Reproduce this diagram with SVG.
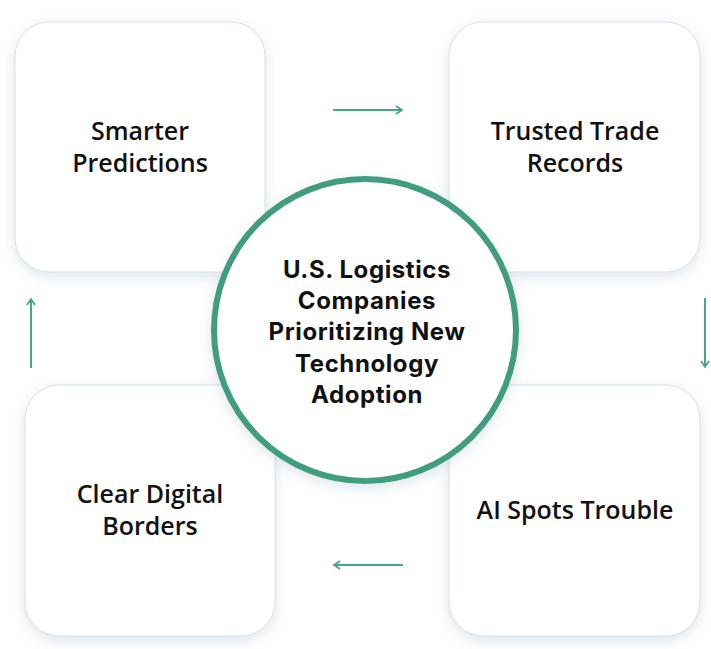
<svg xmlns="http://www.w3.org/2000/svg" width="711" height="649" viewBox="0 0 711 649">
<defs>
<filter id="sh" x="-20%" y="-20%" width="140%" height="140%">
<feDropShadow dx="0" dy="4" stdDeviation="7" flood-color="#9fb4c6" flood-opacity="0.35"/>
</filter>
<marker id="ah" viewBox="0 0 10 10" refX="8" refY="5" markerWidth="10" markerHeight="10" markerUnits="userSpaceOnUse" orient="auto">
<path d="M2,1 L8,5 L2,9" fill="none" stroke="#46a783" stroke-width="1.8"/>
</marker>
<style>
.box{fill:#ffffff;stroke:#d3e2ea;stroke-width:1;filter:url(#sh)}
.lbl{font-family:"Open Sans","Noto Sans",sans-serif;font-weight:600;font-size:25px;fill:#111;text-anchor:middle}
.ctr{font-family:Inter,"Liberation Sans",sans-serif;font-weight:700;font-size:24px;letter-spacing:0.6px;fill:#111;text-anchor:middle}
.arr{stroke:#46a783;stroke-width:2;fill:none;marker-end:url(#ah)}
</style>
</defs>
<rect width="711" height="649" fill="#ffffff"/>
<g id="node-smarter">
<rect class="box" x="15" y="22" width="250" height="250" rx="34"/>
<text class="lbl"><tspan x="140" y="140">Smarter</tspan><tspan x="140" y="172">Predictions</tspan></text>
</g>
<g id="node-trusted">
<rect class="box" x="449" y="22" width="251" height="250" rx="34"/>
<text class="lbl"><tspan x="575" y="140">Trusted Trade</tspan><tspan x="575" y="172">Records</tspan></text>
</g>
<g id="node-borders">
<rect class="box" x="25" y="385" width="250" height="251" rx="34"/>
<text class="lbl"><tspan x="150" y="503">Clear Digital</tspan><tspan x="150" y="535">Borders</tspan></text>
</g>
<g id="node-ai">
<rect class="box" x="449" y="385" width="251" height="251" rx="34"/>
<text class="lbl"><tspan x="575" y="519">AI Spots Trouble</tspan></text>
</g>
<g id="connectors">
<line class="arr" x1="333" y1="110" x2="402" y2="110"/>
<line class="arr" x1="705" y1="298" x2="705" y2="367"/>
<line class="arr" x1="403" y1="565" x2="334" y2="565"/>
<line class="arr" x1="31" y1="368" x2="31" y2="299"/>
</g>
<g id="node-center">
<circle cx="365" cy="330" r="151" fill="#ffffff" stroke="#3f9e7b" stroke-width="6" filter="url(#sh)"/>
<text class="ctr"><tspan x="367" y="278">U.S. Logistics</tspan><tspan x="367" y="309">Companies</tspan><tspan x="367" y="340">Prioritizing New</tspan><tspan x="367" y="372">Technology</tspan><tspan x="367" y="403">Adoption</tspan></text>
</g>
</svg>
